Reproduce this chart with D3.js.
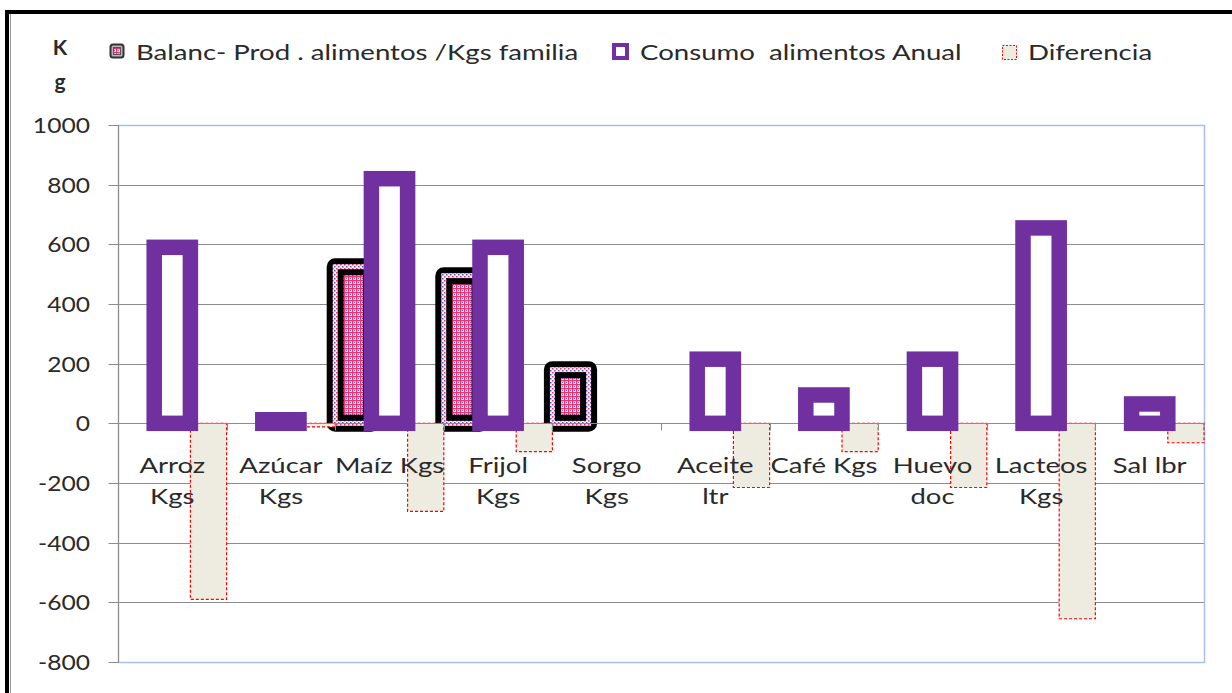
<!DOCTYPE html>
<html>
<head>
<meta charset="utf-8">
<script src="https://cdn.jsdelivr.net/npm/d3@7"></script>
<style>
  body { margin: 0; background: #fff; }
  text { font-family: Lato, "Open Sans", sans-serif; fill: #2a2a2a; }
</style>
</head>
<body>
<div id="chart"></div>
<script>
// datos
var categorias = ["Arroz Kgs", "Azúcar Kgs", "Maíz Kgs", "Frijol Kgs", "Sorgo Kgs",
                  "Aceite ltr", "Café Kgs", "Huevo doc", "Lacteos Kgs", "Sal lbr"];
var etiquetas = [["Arroz", "Kgs"], ["Azúcar", "Kgs"], ["Maíz Kgs"], ["Frijol", "Kgs"], ["Sorgo", "Kgs"],
                 ["Aceite", "ltr"], ["Café Kgs"], ["Huevo", "doc"], ["Lacteos", "Kgs"], ["Sal lbr"]];
var balanc = [null, null, 525, 495, 180, null, null, null, null, null];
var consumo = [590, 12, 820, 590, null, 215, 95, 215, 655, 65];
var diferencia = [-590, -12, -295, -95, null, -215, -95, -215, -655, -65];
var ticksY = [-800, -600, -400, -200, 0, 200, 400, 600, 800, 1000];
var series = ["Balanc- Prod . alimentos /Kgs familia", "Consumo  alimentos Anual", "Diferencia"];

var width = 1232, height = 693;
var mLeft = 118, mRight = 1204, mTop = 125, mBottom = 662;

var svg = d3.select("#chart").append("svg")
    .attr("width", width)
    .attr("height", height);

// patrones para la serie Balanc
var defs = svg.append("defs");
var pf = defs.append("pattern").attr("id", "pfill")
    .attr("patternUnits", "userSpaceOnUse").attr("width", 4).attr("height", 4);
pf.append("rect").attr("width", 4).attr("height", 4).attr("fill", "#f7d6cf");
pf.append("rect").attr("width", 4).attr("height", 1.2).attr("fill", "#f2306a");
pf.append("rect").attr("width", 1.2).attr("height", 4).attr("fill", "#f2306a");
pf.append("rect").attr("x", 2).attr("y", 2).attr("width", 1).attr("height", 1).attr("fill", "#6a6ab8");

var pr = defs.append("pattern").attr("id", "pring")
    .attr("patternUnits", "userSpaceOnUse").attr("width", 4).attr("height", 4);
pr.append("rect").attr("width", 4).attr("height", 4).attr("fill", "#fbeef0");
pr.append("rect").attr("width", 1.5).attr("height", 1.5).attr("fill", "#f03060");
pr.append("rect").attr("x", 2).attr("y", 2).attr("width", 1.5).attr("height", 1.5).attr("fill", "#4a5cc0");

// escalas
var x = d3.scaleBand().domain(categorias).range([mLeft, mRight]).padding(0);
var xs = d3.scaleBand().domain(["b", "c", "d"]).range([0, x.bandwidth()]).padding(0);
var y = d3.scaleLinear().domain([-800, 1000]).range([mBottom, mTop]);

// texto estirado horizontalmente (el original esta deformado)
function stretch(sel, tx, ty, sx) {
    sel.attr("transform", "translate(" + tx + "," + ty + ") scale(" + sx + ",1)");
}

// marco exterior
svg.append("rect")
    .attr("x", 7).attr("y", 12).attr("width", 1400).attr("height", 900)
    .attr("fill", "none").attr("stroke", "#000").attr("stroke-width", 4);
svg.append("line").attr("x1", 10.5).attr("x2", 10.5).attr("y1", 14).attr("y2", height)
    .attr("stroke", "#999").attr("stroke-width", 1);

// lineas de division
svg.append("g").selectAll("line")
    .data(ticksY.filter(function(d) { return d > -800 && d < 1000 && d !== 0; }))
    .enter().append("line")
    .attr("x1", mLeft).attr("x2", mRight)
    .attr("y1", function(d) { return Math.round(y(d)) + 0.5; })
    .attr("y2", function(d) { return Math.round(y(d)) + 0.5; })
    .attr("stroke", "#8c8c8c");

// borde del area de trazado
svg.append("rect")
    .attr("x", mLeft + 0.5).attr("y", mTop + 0.5)
    .attr("width", mRight - mLeft).attr("height", mBottom - mTop)
    .attr("fill", "none").attr("stroke", "#a9bfe6").attr("stroke-width", 1.5);

// eje Y
var yAxis = svg.append("g").attr("transform", "translate(" + (mLeft + 0.5) + ",0)");
yAxis.append("line").attr("y1", mTop).attr("y2", mBottom).attr("stroke", "#8c8c8c");
var yt = yAxis.selectAll(".tk").data(ticksY).enter().append("g").attr("class", "tk");
yt.append("line")
    .attr("x1", -10).attr("x2", 0)
    .attr("y1", function(d) { return Math.round(y(d)) + 0.5; })
    .attr("y2", function(d) { return Math.round(y(d)) + 0.5; })
    .attr("stroke", "#8c8c8c");
yt.append("text")
    .attr("text-anchor", "end")
    .style("font-size", "22px")
    .text(function(d) { return d; })
    .each(function(d) { stretch(d3.select(this), -28.5, y(d) + 8, 1.12); });

// barras Balanc
var bdat = categorias.map(function(c, i) { return { c: c, v: balanc[i] }; })
    .filter(function(d) { return d.v !== null; });
var gb = svg.append("g");
gb.selectAll(".b1").data(bdat).enter().append("rect")
    .attr("x", function(d) { return x(d.c) + xs("b"); })
    .attr("y", function(d) { return y(d.v); })
    .attr("width", xs.bandwidth())
    .attr("height", function(d) { return y(0) - y(d.v); })
    .attr("fill", "url(#pfill)")
    .attr("stroke", "#000").attr("stroke-width", 17)
    .attr("stroke-linejoin", "round");
gb.selectAll(".b2").data(bdat).enter().append("rect")
    .attr("x", function(d) { return x(d.c) + xs("b"); })
    .attr("y", function(d) { return y(d.v); })
    .attr("width", xs.bandwidth())
    .attr("height", function(d) { return y(0) - y(d.v); })
    .attr("fill", "none")
    .attr("stroke", "url(#pring)").attr("stroke-width", 5);

// barras Diferencia
var ddat = categorias.map(function(c, i) { return { c: c, v: diferencia[i] }; })
    .filter(function(d) { return d.v !== null; });
svg.append("g").selectAll("rect").data(ddat).enter().append("rect")
    .attr("x", function(d) { return x(d.c) + xs("d"); })
    .attr("y", y(0))
    .attr("width", xs.bandwidth())
    .attr("height", function(d) { return y(d.v) - y(0); })
    .attr("fill", "#eeece1")
    .attr("stroke", "#ff0000").attr("stroke-width", 1.2)
    .attr("stroke-dasharray", "3,2");

// eje X en cero
var x0 = Math.round(y(0)) + 0.5;
svg.append("line").attr("x1", mLeft).attr("x2", mRight).attr("y1", x0).attr("y2", x0)
    .attr("stroke", "#8c8c8c");
svg.append("g").selectAll("line")
    .data(categorias.concat(["fin"]))
    .enter().append("line")
    .attr("x1", function(d) { return d === "fin" ? mRight : Math.round(x(d)) + 0.5; })
    .attr("x2", function(d) { return d === "fin" ? mRight : Math.round(x(d)) + 0.5; })
    .attr("y1", x0).attr("y2", x0 + 7)
    .attr("stroke", "#8c8c8c");

// barras Consumo
var cdat = categorias.map(function(c, i) { return { c: c, v: consumo[i] }; })
    .filter(function(d) { return d.v !== null; });
svg.append("g").selectAll("rect").data(cdat).enter().append("rect")
    .attr("x", function(d) { return x(d.c) + xs("c"); })
    .attr("y", function(d) { return y(d.v); })
    .attr("width", xs.bandwidth())
    .attr("height", function(d) { return y(0) - y(d.v); })
    .attr("fill", "#fff")
    .attr("stroke", "#7030a0").attr("stroke-width", 15.5);

// etiquetas de categoria
var gl = svg.append("g");
categorias.forEach(function(c, i) {
    etiquetas[i].forEach(function(linea, j) {
        gl.append("text")
            .attr("text-anchor", "middle")
            .style("font-size", "22px")
            .text(linea)
            .call(stretch, x(c) + x.bandwidth() / 2, 473 + j * 31, 1.25);
    });
});

// titulo del eje: K g
svg.append("text").attr("x", 60).attr("y", 55).attr("text-anchor", "middle")
    .style("font-size", "21px").style("font-weight", "bold").text("K");
svg.append("text").attr("x", 60).attr("y", 89).attr("text-anchor", "middle")
    .style("font-size", "21px").style("font-weight", "bold").text("g");

// leyenda
var leg = svg.append("g");
leg.append("rect").attr("x", 110.5).attr("y", 44.5).attr("width", 13).attr("height", 13)
    .attr("rx", 2.5).attr("fill", "#b8b8b8").attr("stroke", "#333").attr("stroke-width", 2);
leg.append("rect").attr("x", 113.5).attr("y", 47.5).attr("width", 7).attr("height", 7)
    .attr("fill", "url(#pfill)").attr("stroke", "#555").attr("stroke-width", 1);
leg.append("rect").attr("x", 614).attr("y", 45).attr("width", 13).attr("height", 13)
    .attr("fill", "#fff").attr("stroke", "#7030a0").attr("stroke-width", 4);
leg.append("rect").attr("x", 1002.5).attr("y", 45.5).attr("width", 14).attr("height", 14)
    .attr("fill", "#eeece1").attr("stroke", "#ff0000").attr("stroke-width", 1)
    .attr("stroke-dasharray", "2,1.5");
var legX = [136, 640, 1028];
series.forEach(function(s, i) {
    leg.append("text")
        .style("font-size", "22px")
        .style("white-space", "pre")
        .text(s)
        .call(stretch, legX[i], 60, 1.255);
});
</script>
</body>
</html>
